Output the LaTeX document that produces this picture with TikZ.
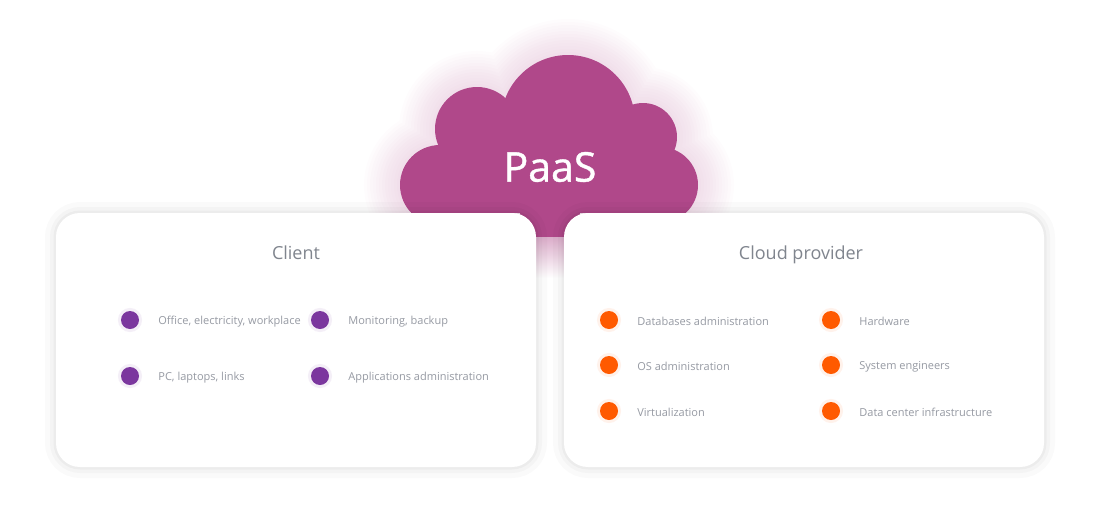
\documentclass[tikz,border=0pt]{standalone}
\usepackage{fontspec}
\setmainfont{Open Sans}
\usetikzlibrary{positioning}
\definecolor{paas}{RGB}{176,72,138}
\definecolor{clientdot}{RGB}{123,55,158}
\definecolor{provdot}{RGB}{255,90,0}
\definecolor{txtgray}{RGB}{150,154,163}
\definecolor{titlegray}{RGB}{128,133,142}
\newcommand{\cloudpath}{(568,122) circle (67pt) (477,129) circle (42pt) (440,185) circle (40pt)
        (643,137) circle (34pt) (660,185) circle (38pt)}
\tikzset{
        panel/.style={fill=white, rounded corners=24pt, minimum width=480pt, minimum height=254pt,
                preaction={draw=black, draw opacity=.02, line width=22pt},
                preaction={draw=black, draw opacity=.025, line width=12pt},
                preaction={draw=black, draw opacity=.03, line width=5pt}},
        title/.style={text=titlegray, font=\fontsize{18}{20}\selectfont, anchor=base},
        cdot/.style={circle, fill=clientdot, minimum size=18pt, inner sep=0pt,
                preaction={draw=clientdot, draw opacity=.08, line width=6pt}},
        pdot/.style={circle, fill=provdot, minimum size=18pt, inner sep=0pt,
                preaction={draw=provdot, draw opacity=.08, line width=6pt}},
        item/.style={text=txtgray, font=\fontsize{11}{13}\selectfont, anchor=west, inner sep=0pt, yshift=-1.5pt},
}
\begin{document}
\begin{tikzpicture}[x=1pt,y=-1pt]
        \useasboundingbox (0,0) rectangle (1100,522);
        \foreach \w in {72,66,...,6}
                \draw[paas, line width=\w pt, draw opacity=.016] \cloudpath (420,170) -- (420,213) -- (680,213) -- (680,170);
        \foreach \cx/\cy/\r in {568/122/67,477/129/42,440/185/40,643/137/34,660/185/38}
                \fill[paas] (\cx,\cy) circle (\r pt);
        \fill[paas] (440,150) rectangle (660,213);
        \fill[paas] (420,175) rectangle (680,213);
        \fill[paas] (520,200) rectangle (580,237);
        \shade[top color=paas!45!white, bottom color=white] (536,237) rectangle (564,278);
        \node[text=white, font=\fontsize{41}{44}\selectfont\addfontfeatures{FakeBold=1}] (paas) at (550,167) {PaaS};

        \node[panel] (client) at (296,340) {};
        \node[panel] (provider) at (804,340) {};

        \node[title] (clienttitle) at (296,259) {Client};
        \node[cdot] (c1) at (130,320) {};
        \node[cdot] (c2) at (130,376) {};
        \node[cdot] (c3) at (320,320) {};
        \node[cdot] (c4) at (320,376) {};
        \node[item, right=19pt of c1] (c1t) {Office, electricity, workplace};
        \node[item, right=19pt of c2] (c2t) {PC, laptops, links};
        \node[item, right=19pt of c3] (c3t) {Monitoring, backup};
        \node[item, right=19pt of c4] (c4t) {Applications administration};

        \node[title] (providertitle) at (801,259) {Cloud provider};
        \node[pdot] (p1) at (609,320) {};
        \node[pdot] (p2) at (609,365) {};
        \node[pdot] (p3) at (609,411) {};
        \node[pdot] (p4) at (831,320) {};
        \node[pdot] (p5) at (831,365) {};
        \node[pdot] (p6) at (831,411) {};
        \node[item, right=19pt of p1] (p1t) {Databases administration};
        \node[item, right=19pt of p2] (p2t) {OS administration};
        \node[item, right=19pt of p3] (p3t) {Virtualization};
        \node[item, right=19pt of p4] (p4t) {Hardware};
        \node[item, right=19pt of p5] (p5t) {System engineers};
        \node[item, right=19pt of p6] (p6t) {Data center infrastructure};
\end{tikzpicture}
\end{document}
